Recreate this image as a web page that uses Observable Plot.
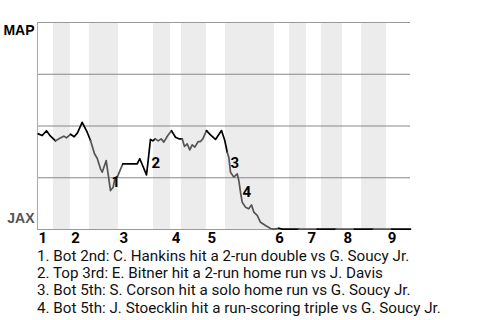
<!DOCTYPE html>
<html><head><meta charset="utf-8">
<script src="https://cdn.jsdelivr.net/npm/d3@7"></script>
<script src="https://cdn.jsdelivr.net/npm/@observablehq/plot@0.6"></script>
<style>
body{margin:0;background:#fff;font-family:Roboto,sans-serif;}
#chart svg{display:block;}
#notes{font-family:Roboto,sans-serif;font-size:15.2px;line-height:17.4px;padding-left:37px;margin-top:-1.5px;color:#111;white-space:nowrap;}
</style></head><body><div id="chart"></div><div id="notes"></div>
<script>
const teams = ["MAP", "JAX"];
const innings = ["1","2","3","4","5","6","7","8","9"];
// start of each half inning (top 1st ... top 9th), in play units
const halfStarts = [0, 4.3, 8.8, 13.9, 21.7, 31.1, 35.7, 38.6, 45.3, 50.4, 63.5, 67.6, 72.1, 76.1, 81.8, 86.9, 93.6];
const gameEnd = 100;
// win probability for MAP
const wpX = [0.2, 1.26, 2.41, 3.49, 4.83, 5.98, 7.05, 7.77, 8.85, 9.84, 10.72, 11.98, 13.32, 14.21, 15.28, 16.0, 16.89, 17.35, 18.42, 19.12, 19.57, 20.29, 20.72, 21.37,
  22.87, 26.73, 27.43, 29.22, 29.57, 30.29, 30.91, 31.56, 32.36, 33.16, 33.86, 34.93, 35.92, 37.0, 37.88, 38.79, 39.41, 40.13, 40.83, 41.47, 42.17, 43.08, 43.7, 44.32,
  45.31, 46.38, 47.72, 49.33, 50.21, 50.86, 51.29, 51.74, 52.63, 53.54, 53.97, 54.42, 54.88, 55.76, 56.65, 57.37, 57.99, 58.9, 59.79, 61.13, 62.47, 63.35, 64.69, 65.6,
  70, 75, 80, 85, 90, 95, 100];
const wpY = [0.462, 0.454, 0.477, 0.451, 0.428, 0.441, 0.451, 0.443, 0.460, 0.448, 0.467, 0.518, 0.470, 0.430, 0.366, 0.344, 0.293, 0.277, 0.333, 0.245, 0.188, 0.204, 0.245, 0.253,
  0.317, 0.317, 0.342, 0.264, 0.317, 0.435, 0.428, 0.438, 0.428, 0.438, 0.422, 0.454, 0.477, 0.446, 0.438, 0.438, 0.401, 0.414, 0.385, 0.409, 0.398, 0.425, 0.425, 0.438,
  0.478, 0.457, 0.435, 0.478, 0.430, 0.373, 0.349, 0.277, 0.253, 0.269, 0.237, 0.180, 0.132, 0.108, 0.100, 0.119, 0.084, 0.068, 0.035, 0.019, 0.005, 0.002, 0.006, 0.002,
  0.002, 0.002, 0.002, 0.002, 0.002, 0.002, 0.002];
const eventLabels = ["1", "2", "3", "4"];
const eventX = [19.84, 30.56, 51.74, 54.96];
const eventY = [0.227, 0.319, 0.319, 0.179];
const notes = [
  "1. Bot 2nd: C. Hankins hit a 2-run double vs G. Soucy Jr.",
  "2. Top 3rd: E. Bitner hit a 2-run home run vs J. Davis",
  "3. Bot 5th: S. Corson hit a solo home run vs G. Soucy Jr.",
  "4. Bot 5th: J. Stoecklin hit a run-scoring triple vs G. Soucy Jr."
];

const halves = halfStarts.map((s, i) => ({x1: s, x2: i + 1 < halfStarts.length ? halfStarts[i + 1] : gameEnd, bottom: i % 2 === 1}));
const inningStarts = halfStarts.filter((d, i) => i % 2 === 0);
function halfOf(x) { let h = 0; halfStarts.forEach((s, i) => { if (x >= s) h = i; }); return h; }
const points = wpX.map((x, i) => ({x, y: wpY[i], c: halfOf(x) % 2 ? "#555" : "#000"}));
const events = eventLabels.map((t, i) => ({t, x: eventX[i], y: eventY[i]}));

const chart = Plot.plot({
  width: 480, height: 249,
  marginLeft: 37, marginRight: 70, marginTop: 22, marginBottom: 20,
  style: {fontFamily: "Roboto, sans-serif", fontSize: "14px", background: "#fff", color: "#000", overflow: "visible"},
  x: {domain: [0, gameEnd]},
  y: {domain: [0, 1], axis: null},
  color: {type: "identity"},
  marks: [
    Plot.rect(halves.filter(d => d.bottom), {x1: "x1", x2: "x2", fill: "#ececec"}),
    Plot.ruleY([0.25, 0.5, 0.75], {stroke: "#888", strokeWidth: 1}),
    Plot.ruleY([1, 0], {stroke: "#999", strokeWidth: 1}),
    Plot.ruleX([0], {stroke: "#aaa", strokeWidth: 1}),
    Plot.line(points, {x: "x", y: "y", z: null, stroke: "c", strokeWidth: 1.7}),
    Plot.text(events, {x: "x", y: "y", text: "t", textAnchor: "start", lineAnchor: "middle", fontWeight: "bold", fontSize: 15, fill: "#000"}),
    Plot.axisX(inningStarts, {tickSize: 0, tickPadding: 3, textAnchor: "start", dx: 1, fontSize: 15, fontWeight: "bold", fill: "#000",
      tickFormat: d => innings[inningStarts.indexOf(d)]}),
    Plot.text([teams[0]], {frameAnchor: "top-left", text: d => d, textAnchor: "end", lineAnchor: "bottom", dx: -3, dy: 12,
      fontFamily: "Liberation Sans, Arial, sans-serif", fontWeight: "bold", fontSize: 14, fill: "#000"}),
    Plot.text([teams[1]], {frameAnchor: "bottom-left", text: d => d, textAnchor: "end", lineAnchor: "bottom", dx: -3, dy: -7,
      fontFamily: "Liberation Sans, Arial, sans-serif", fontWeight: "bold", fontSize: 14, fill: "#555"})
  ]
});
document.getElementById("chart").append(chart);
document.getElementById("notes").innerHTML = notes.map(n => `<div>${n}</div>`).join("");
</script></body></html>
